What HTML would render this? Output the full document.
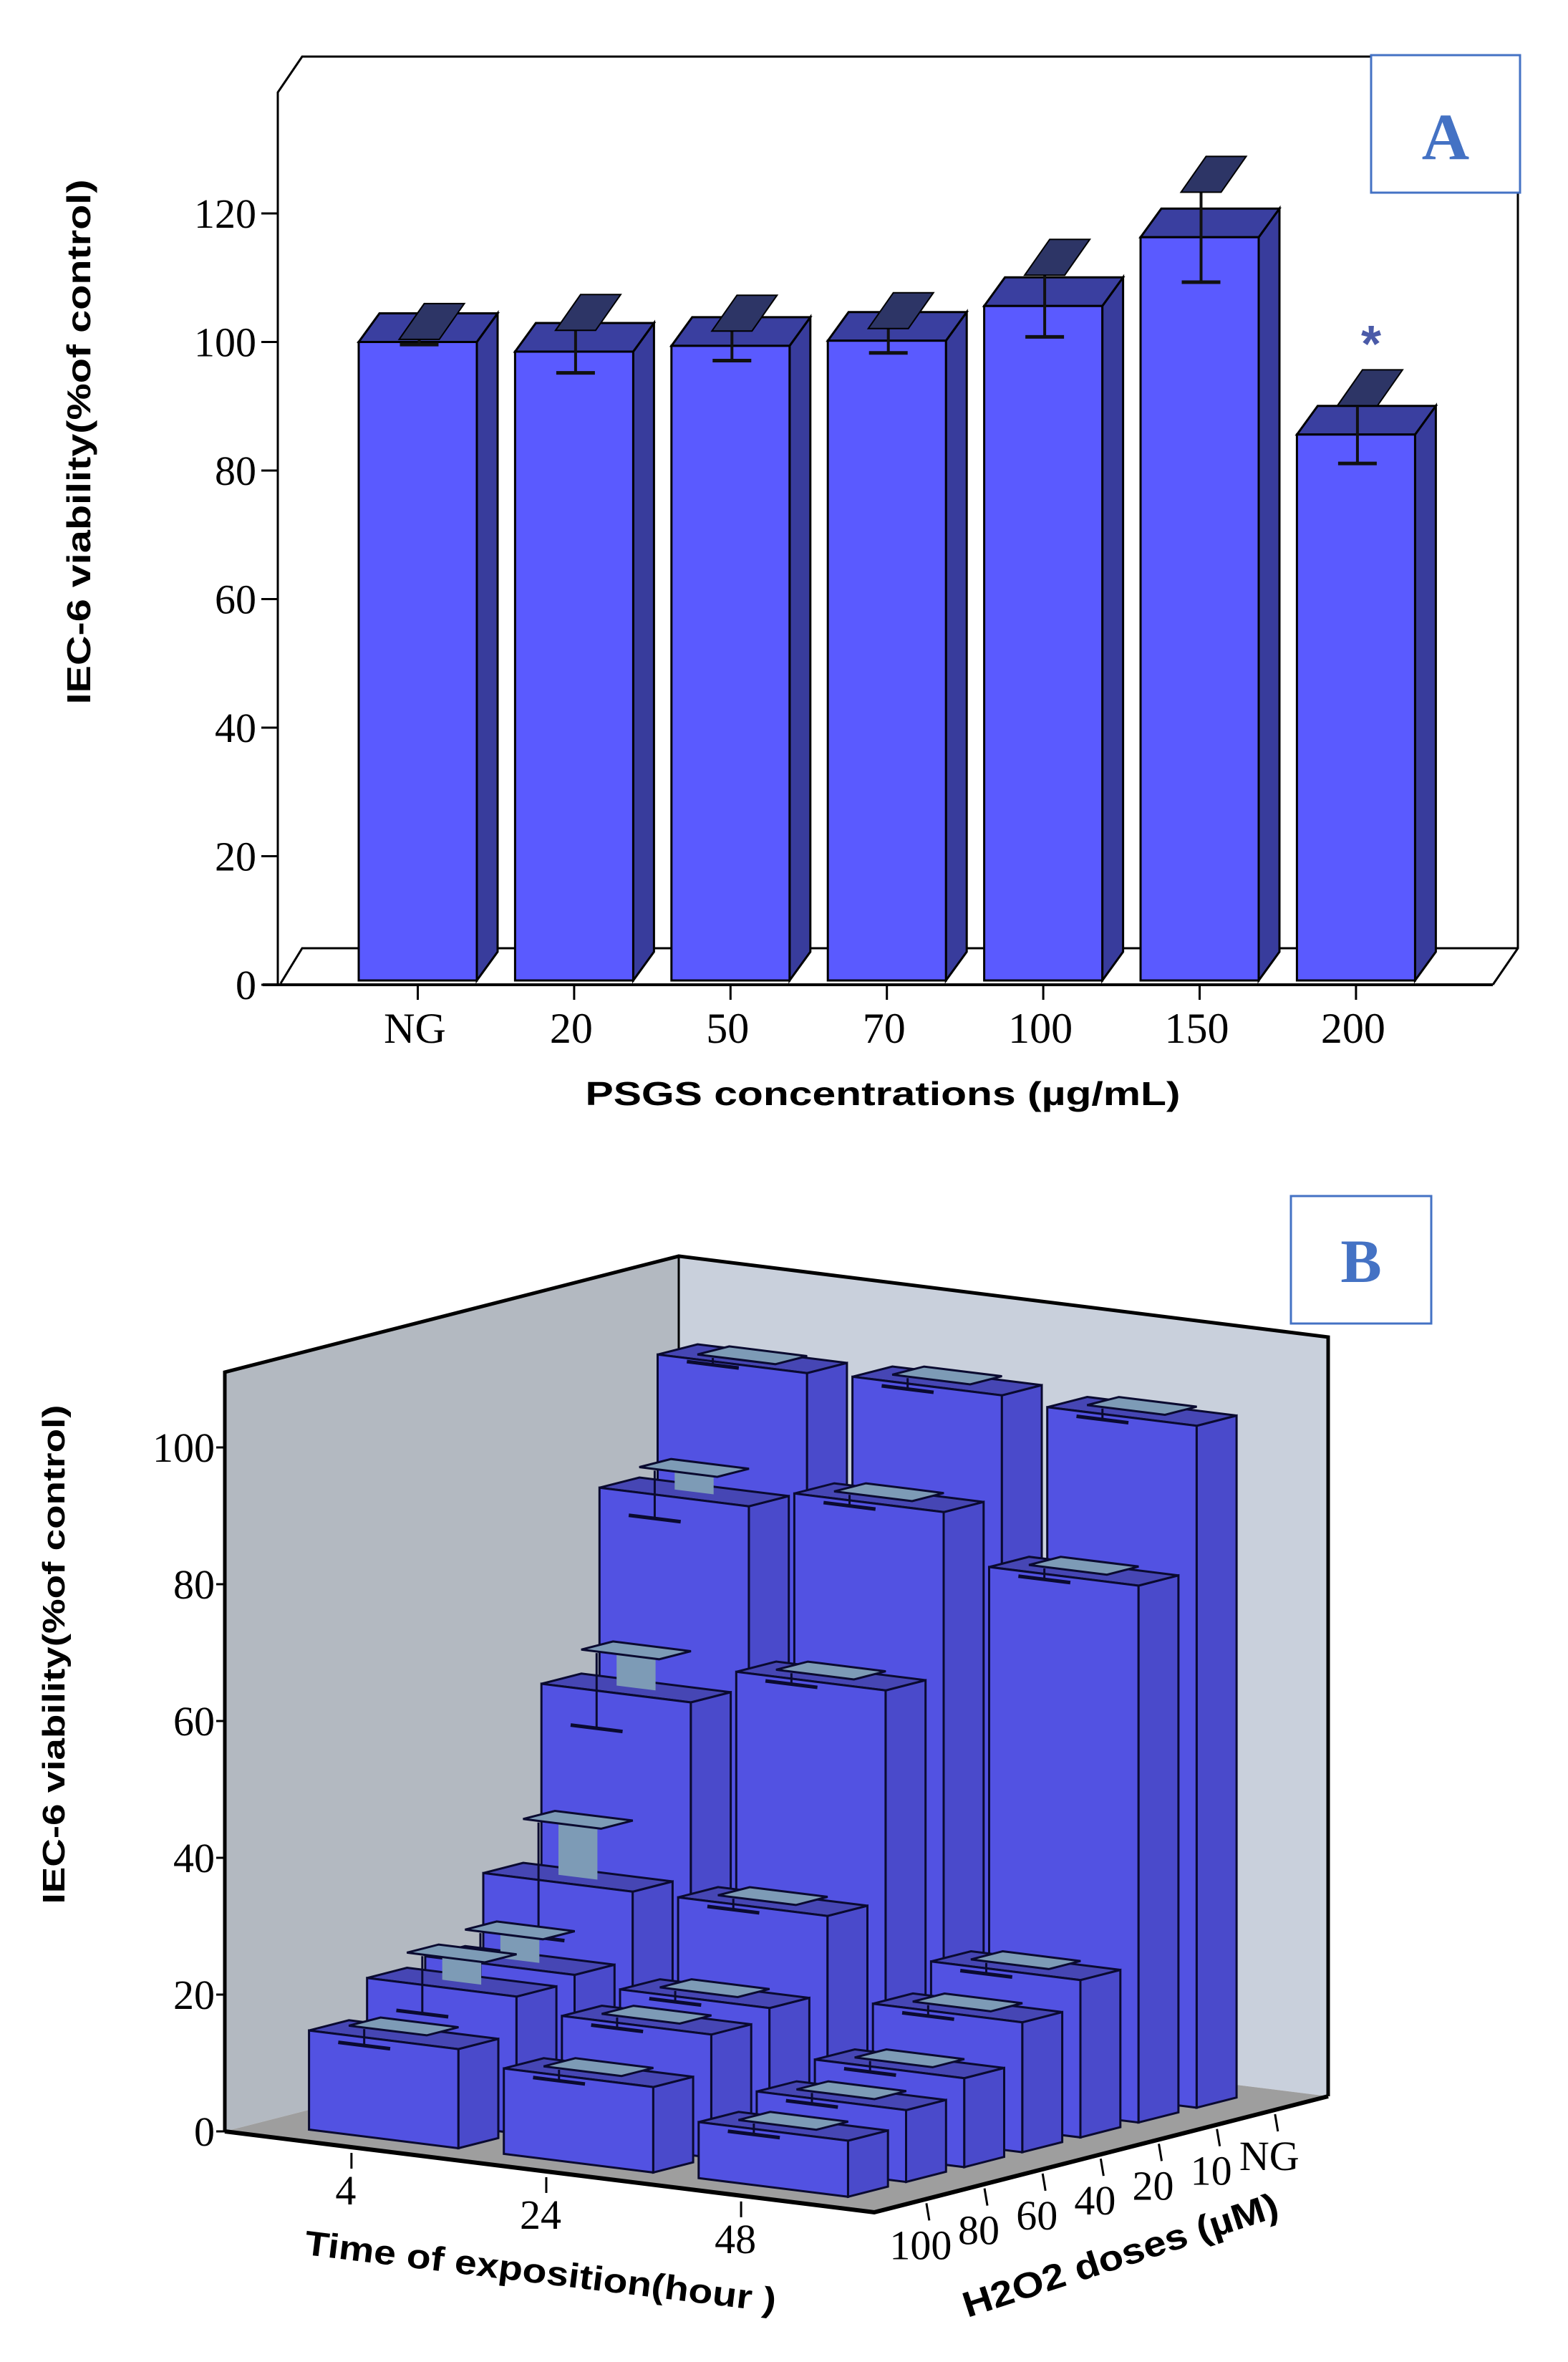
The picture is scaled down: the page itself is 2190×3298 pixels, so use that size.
<!DOCTYPE html>
<html><head><meta charset="utf-8"><title>IEC-6 viability charts</title>
<style>html,body{margin:0;padding:0;background:#fff;}svg{display:block;}</style></head>
<body>
<svg id="fig" xmlns="http://www.w3.org/2000/svg" width="2190" height="3298" viewBox="0 0 2190 3298">
<rect x="0" y="0" width="2190" height="3298" fill="#ffffff"/>
<g id="chartA" transform="translate(0,8)"></g>
<g id="chartB"></g>
</svg>
<script>
// ---------- Chart A data ----------
const catsA = ['NG','20','50','70','100','150','200'];
const valsA = [100, 98.5, 99.4, 100.2, 105.6, 116.3, 85.6];
const errsA = [0.4, 3.3, 2.3, 1.9, 4.8, 7.0, 4.5];
const ticksA = [0, 20, 40, 60, 80, 100, 120];
// ---------- Chart B data ----------
const timesB = ['4','24','48'];
const dosesB = ['100','80','60','40','20','10','NG'];
const valsB4 = [14.5, 20, 21, 31, 56.5, 83, 100.3];
const valsB24 = [12.5, 18, 19.7, 31, 61.8, 85.7, 100.6];
const valsB48 = [8.2, 10.5, 13, 19, 23, 78.5, 99.7];
const errsB4 = [1.2, 4.2, 4.4, 8.4, 5.5, 3.5, 0.5];
const errsB24 = [0.8, 0.8, 0.8, 0.8, 0.8, 0.8, 0.8];
const errsB48 = [0.8, 0.8, 0.8, 0.8, 0.8, 0.8, 0.8];
const ticksB = [0, 20, 40, 60, 80, 100];

const NS = 'http://www.w3.org/2000/svg';
function mk(parent, tag, attrs, text) {
  const e = document.createElementNS(NS, tag);
  for (const k in attrs) e.setAttribute(k, attrs[k]);
  if (text !== undefined) e.textContent = text;
  parent.appendChild(e);
  return e;
}
function pts(a) { return a.map(p => p[0].toFixed(1) + ',' + p[1].toFixed(1)).join(' '); }

// ================= CHART A =================
const gA = document.getElementById('chartA');
const yA = v => 1367 - v * 8.975;
const xA = i => 501 + i * 218.4;
const bwA = 165, dxA = 29, dyA = -40;

let e;
e = mk(gA, 'polyline', {points: pts([[388,1365],[388,121],[422,71],[2120,71],[2120,1316],[2085,1367]]), fill: 'none', stroke: '#000', 'stroke-width': 3});


e = mk(gA, 'polyline', {points: pts([[392,1365],[422,1316],[2120,1316]]), fill: 'none', stroke: '#000', 'stroke-width': 3});


e = mk(gA, 'line', {x1: 367, y1: 1367, x2: 2085, y2: 1367, stroke: '#000', 'stroke-width': 4});



ticksA.forEach(t => {
  const y = yA(t);
  const l = mk(gA, 'line', {x1: 365, y1: y, x2: 388, y2: y, stroke: '#000', 'stroke-width': 3});
  
  
  const tx = mk(gA, 'text', {x: 358, y: y + 20, 'text-anchor': 'end', 'font-family': 'Liberation Serif, serif', 'font-size': 58, fill: '#000'}, String(t));
  
  
});

catsA.forEach((c, i) => {
  const x = xA(i), v = valsA[i], yt = yA(v), y0 = yA(0) - 6;
  const g = mk(gA, 'g', {});
  
  
  mk(g, 'polygon', {points: pts([[x+bwA,yt],[x+bwA+dxA,yt+dyA],[x+bwA+dxA,y0+dyA],[x+bwA,y0]]), fill: '#383c9c', stroke: '#000', 'stroke-width': 3});
  mk(g, 'polygon', {points: pts([[x,yt],[x+dxA,yt+dyA],[x+bwA+dxA,yt+dyA],[x+bwA,yt]]), fill: '#3a3fa0', stroke: '#000', 'stroke-width': 3});
  mk(g, 'rect', {x: x, y: yt, width: bwA, height: y0 - yt, fill: '#5a5aff', stroke: '#000', 'stroke-width': 3});
  const cx = x + bwA / 2 + 2, e1 = yA(v + errsA[i]), e0 = yA(v - errsA[i]);
  const eb = mk(gA, 'g', {});
  
  
  mk(eb, 'line', {x1: cx, y1: e0, x2: cx, y2: e1, stroke: '#111', 'stroke-width': 4});
  mk(eb, 'line', {x1: cx - 27, y1: e0, x2: cx + 27, y2: e0, stroke: '#111', 'stroke-width': 5});
  mk(eb, 'polygon', {points: pts([[cx-28,e1],[cx+28,e1],[cx+63,e1-50],[cx+7,e1-50]]), fill: '#2d3566', stroke: '#000', 'stroke-width': 2});
  const tk = mk(gA, 'line', {x1: x + bwA/2, y1: 1367, x2: x + bwA/2, y2: 1388, stroke: '#000', 'stroke-width': 3});
  
  
  const lb = mk(gA, 'text', {x: x + bwA/2 - 4, y: 1448, 'text-anchor': 'middle', 'font-family': 'Liberation Serif, serif', 'font-size': 60, fill: '#000'}, c);
  
  
});

e = mk(gA, 'text', {x: 1915, y: 497, 'text-anchor': 'middle', 'font-family': 'Liberation Sans, sans-serif', 'font-size': 72, 'font-weight': 'bold', fill: '#4a5aa8'}, '*');



e = mk(gA, 'text', {x: 0, y: 0, transform: 'translate(126,609) rotate(-90)', 'text-anchor': 'middle', 'font-family': 'Liberation Sans, sans-serif', 'font-size': 46, 'font-weight': 'bold', fill: '#000', textLength: 733, lengthAdjust: 'spacingAndGlyphs'}, 'IEC-6 viability(%of control)');


e = mk(gA, 'text', {x: 1233, y: 1535, 'text-anchor': 'middle', 'font-family': 'Liberation Sans, sans-serif', 'font-size': 46, 'font-weight': 'bold', fill: '#000', textLength: 831, lengthAdjust: 'spacingAndGlyphs'}, 'PSGS concentrations (µg/mL)');



e = mk(gA, 'rect', {x: 1915, y: 69, width: 208, height: 192, fill: '#fff', stroke: '#4472c4', 'stroke-width': 3});


e = mk(gA, 'text', {x: 2019, y: 214, 'text-anchor': 'middle', 'font-family': 'Liberation Serif, serif', 'font-size': 92, 'font-weight': 'bold', fill: '#4472c4'}, 'A');



// ================= CHART B =================
const gB = document.getElementById('chartB');
const L = [314, 2976], T = [907, 113], D = [634, -162], U = 9.55, H = 111;
function P(t, d, v) { return [L[0] + t*T[0] + d*D[0], L[1] + t*T[1] + d*D[1] - v*U]; }

e = mk(gB, 'polygon', {points: pts([P(0,0,0),P(0,0,H),P(0,1,H),P(0,1,0)]), fill: '#b3b9c1', stroke: 'none'});


e = mk(gB, 'polygon', {points: pts([P(0,1,0),P(0,1,H),P(1,1,H),P(1,1,0)]), fill: '#c9d0dc', stroke: 'none'});


e = mk(gB, 'polygon', {points: pts([P(0,0,0),P(1,0,0),P(1,1,0),P(0,1,0)]), fill: '#9e9e9e', stroke: 'none'});


e = mk(gB, 'polyline', {points: pts([P(0,0,0),P(0,0,H),P(0,1,H),P(1,1,H),P(1,1,0)]), fill: 'none', stroke: '#000', 'stroke-width': 5});


e = mk(gB, 'line', {x1: P(0,1,0)[0], y1: P(0,1,0)[1], x2: P(0,1,H)[0], y2: P(0,1,H)[1], stroke: '#000', 'stroke-width': 3});


e = mk(gB, 'polyline', {points: pts([P(0,0,0),P(1,0,0),P(1,1,0)]), fill: 'none', stroke: '#000', 'stroke-width': 6});



ticksB.forEach(t => {
  const p = P(0,0,t);
  const l = mk(gB, 'line', {x1: p[0]-12, y1: p[1], x2: p[0], y2: p[1], stroke: '#000', 'stroke-width': 3});
  
  
  const tx = mk(gB, 'text', {x: p[0]-14, y: p[1]+20, 'text-anchor': 'end', 'font-family': 'Liberation Serif, serif', 'font-size': 58, fill: '#000'}, String(t));
  
  
});

const valsB = [valsB4, valsB24, valsB48];
const errsB = [errsB4, errsB24, errsB48];
const tw = 0.23, dw = 0.088;
function t0(i) { return 0.08 + 0.3 * i; }
function d0(j) { return 0.071 + 0.128 * j; }
for (let j = dosesB.length - 1; j >= 0; j--) {
  for (let i = 0; i < timesB.length; i++) {
    const v = valsB[i][j], er = errsB[i][j];
    const ta = t0(i), tb = ta + tw, da = d0(j), db = da + dw;
    const g = mk(gB, 'g', {});
    
    
    mk(g, 'polygon', {points: pts([P(tb,da,0),P(tb,db,0),P(tb,db,v),P(tb,da,v)]), fill: '#4a4acb', stroke: '#0a0a30', 'stroke-width': 3});
    mk(g, 'polygon', {points: pts([P(ta,da,v),P(tb,da,v),P(tb,db,v),P(ta,db,v)]), fill: '#4646b4', stroke: '#0a0a30', 'stroke-width': 3});
    mk(g, 'polygon', {points: pts([P(ta,da,0),P(tb,da,0),P(tb,da,v),P(ta,da,v)]), fill: '#5252e2', stroke: '#0a0a30', 'stroke-width': 3});
    const tc = (ta + tb) / 2, dc = (da + db) / 2;
    const eg = mk(gB, 'g', {});
    
    
    const hi = v + er, lo = v - er;
    if (er > 1.5) {
      mk(eg, 'polygon', {points: pts([P(tc-0.03,dc,v),P(tc+0.03,dc,v),P(tc+0.03,dc,hi),P(tc-0.03,dc,hi)]), fill: '#7d9bb6', stroke: 'none'});
    }
    mk(eg, 'polygon', {points: pts([P(tc-0.06,dc-0.035,hi),P(tc+0.06,dc-0.035,hi),P(tc+0.06,dc+0.035,hi),P(tc-0.06,dc+0.035,hi)]), fill: '#7d9bb6', stroke: '#0a0a30', 'stroke-width': 3});
    const a = P(tc-0.03, da, lo), b = P(tc-0.03, da, hi);
    mk(eg, 'line', {x1: a[0], y1: a[1], x2: b[0], y2: b[1], stroke: '#0a0a30', 'stroke-width': 3});
    const c1 = P(tc-0.07, da, lo), c2 = P(tc+0.01, da, lo);
    mk(eg, 'line', {x1: c1[0], y1: c1[1], x2: c2[0], y2: c2[1], stroke: '#0a0a30', 'stroke-width': 5});
  }
}

timesB.forEach((t, i) => {
  const p = P(t0(i) + tw/2, 0, 0);
  const l = mk(gB, 'line', {x1: p[0], y1: p[1]+8, x2: p[0], y2: p[1]+30, stroke: '#000', 'stroke-width': 3});
  
  
  const tx = mk(gB, 'text', {x: p[0]-8, y: p[1]+80, 'text-anchor': 'middle', 'font-family': 'Liberation Serif, serif', 'font-size': 58, fill: '#000'}, t);
  
  
});
dosesB.forEach((d, j) => {
  const p = P(1, d0(j) + dw/2, 0);
  const l = mk(gB, 'line', {x1: p[0], y1: p[1]+6, x2: p[0]+4, y2: p[1]+30, stroke: '#000', 'stroke-width': 3});
  
  
  const tx = mk(gB, 'text', {x: p[0]-8, y: p[1]+84, 'text-anchor': 'middle', 'font-family': 'Liberation Serif, serif', 'font-size': 58, fill: '#000'}, d);
  
  
});

e = mk(gB, 'text', {x: 0, y: 0, transform: 'translate(90,2310) rotate(-90)', 'text-anchor': 'middle', 'font-family': 'Liberation Sans, sans-serif', 'font-size': 44, 'font-weight': 'bold', fill: '#000', textLength: 697, lengthAdjust: 'spacingAndGlyphs'}, 'IEC-6 viability(%of control)');


e = mk(gB, 'text', {x: 0, y: 0, transform: 'translate(753,3188) rotate(7)', 'text-anchor': 'middle', 'font-family': 'Liberation Sans, sans-serif', 'font-size': 48, 'font-weight': 'bold', fill: '#000', textLength: 663, lengthAdjust: 'spacingAndGlyphs'}, 'Time of exposition(hour )');


e = mk(gB, 'text', {x: 0, y: 0, transform: 'translate(1570,3165) rotate(-18)', 'text-anchor': 'middle', 'font-family': 'Liberation Sans, sans-serif', 'font-size': 50, 'font-weight': 'bold', fill: '#000', textLength: 460, lengthAdjust: 'spacingAndGlyphs'}, 'H2O2 doses (µM)');



e = mk(gB, 'rect', {x: 1803, y: 1670, width: 196, height: 178, fill: '#fff', stroke: '#4472c4', 'stroke-width': 3});


e = mk(gB, 'text', {x: 1901, y: 1790, 'text-anchor': 'middle', 'font-family': 'Liberation Serif, serif', 'font-size': 86, 'font-weight': 'bold', fill: '#4472c4'}, 'B');


</script>
</body></html>
